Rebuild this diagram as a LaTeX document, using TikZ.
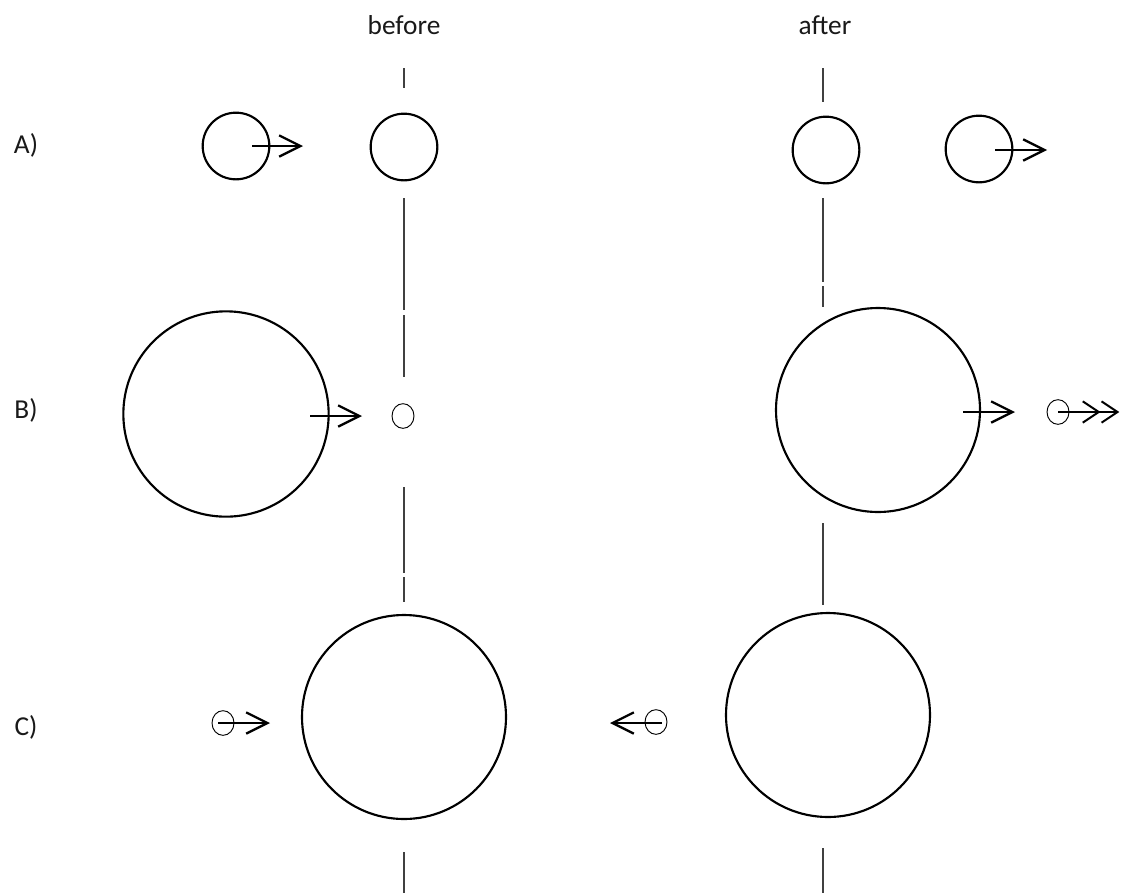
\documentclass[tikz,border=0pt]{standalone}
\usepackage{fontspec}
\setmainfont{Carlito}
\usetikzlibrary{arrows.meta,shapes.geometric}
\begin{document}
\begin{tikzpicture}[x=0.75pt,y=-0.75pt,
  ring/.style={circle,draw,line width=1.6pt,inner sep=0pt,minimum size=#1},
  dot/.style={ellipse,draw,line width=0.7pt,inner sep=0pt,minimum width=16.5pt,minimum height=18.5pt},
  axis/.style={line width=0.8pt,draw=black!75},
  push/.style={line width=1.7pt,-{Straight Barb[length=16pt,width=16pt,line width=1.7pt]}},
  pushtwo/.style={line width=1.5pt,-{Straight Barb[length=12pt,width=16pt,line width=1.5pt]Straight Barb[length=12pt,width=16pt,line width=1.5pt,sep=2pt]}},
  lbl/.style={font=\fontsize{20.5}{24}\selectfont,text=black!90,inner sep=0pt}]
\useasboundingbox (0,0) rectangle (1124,893);

% headings and row labels
\node[lbl] (hb) at (404,25) {before};
\node[lbl] (ha) at (825,25) {after};
\node[lbl] (la) at (26,145) {A)};
\node[lbl] (lb) at (26,410) {B)};
\node[lbl] (lc) at (26,727) {C)};

% axis of the "before" column
\coordinate (b0) at (404,68);  \coordinate (b1) at (404,88);
\coordinate (b2) at (404,198); \coordinate (b3) at (404,310);
\coordinate (b4) at (404,315); \coordinate (b5) at (404,377);
\coordinate (b6) at (404,487); \coordinate (b7) at (404,573);
\coordinate (b8) at (404,577); \coordinate (b9) at (404,602);
\coordinate (b10) at (404,852); \coordinate (b11) at (404,893);
\draw[axis] (b0)--(b1) (b2)--(b3) (b4)--(b5) (b6)--(b7) (b8)--(b9) (b10)--(b11);

% axis of the "after" column
\coordinate (a0) at (823,68);  \coordinate (a1) at (823,102);
\coordinate (a2) at (823,198); \coordinate (a3) at (823,282);
\coordinate (a4) at (823,286); \coordinate (a5) at (823,307);
\coordinate (a6) at (823,523); \coordinate (a7) at (823,605);
\coordinate (a8) at (823,848); \coordinate (a9) at (823,893);
\draw[axis] (a0)--(a1) (a2)--(a3) (a4)--(a5) (a6)--(a7) (a8)--(a9);

% row A
\node[ring=50pt] (A1) at (236,146) {};
\node[ring=50pt] (A2) at (404,147) {};
\node[ring=50pt] (A3) at (826,150) {};
\node[ring=50pt] (A4) at (979,149) {};
\coordinate (A1s) at (252,146); \coordinate (A1e) at (303,146);
\coordinate (A4s) at (995,150); \coordinate (A4e) at (1047,150);
\draw[push] (A1s) -- (A1e);
\draw[push] (A4s) -- (A4e);

% row B
\node[ring=154pt] (B1) at (226,414) {};
\node[dot] (B2) at (403,416) {};
\node[ring=153pt] (B3) at (878,410) {};
\node[dot] (B4) at (1058,412) {};
\coordinate (B1s) at (310,416); \coordinate (B1e) at (362,416);
\coordinate (B3s) at (963,412); \coordinate (B3e) at (1015,412);
\coordinate (B4e) at (1122,412);
\draw[push] (B1s) -- (B1e);
\draw[push] (B3s) -- (B3e);
\draw[pushtwo] (B4.center) -- (B4e);

% row C
\node[ring=153pt] (C1) at (404,717) {};
\node[ring=153pt] (C2) at (828,715) {};
\node[dot] (C0) at (223,723) {};
\node[dot] (C3) at (656,722) {};
\coordinate (C0s) at (218,723); \coordinate (C0e) at (270,723);
\coordinate (C3s) at (662,723); \coordinate (C3e) at (610,723);
\draw[push] (C0s) -- (C0e);
\draw[push] (C3s) -- (C3e);
\end{tikzpicture}
\end{document}
